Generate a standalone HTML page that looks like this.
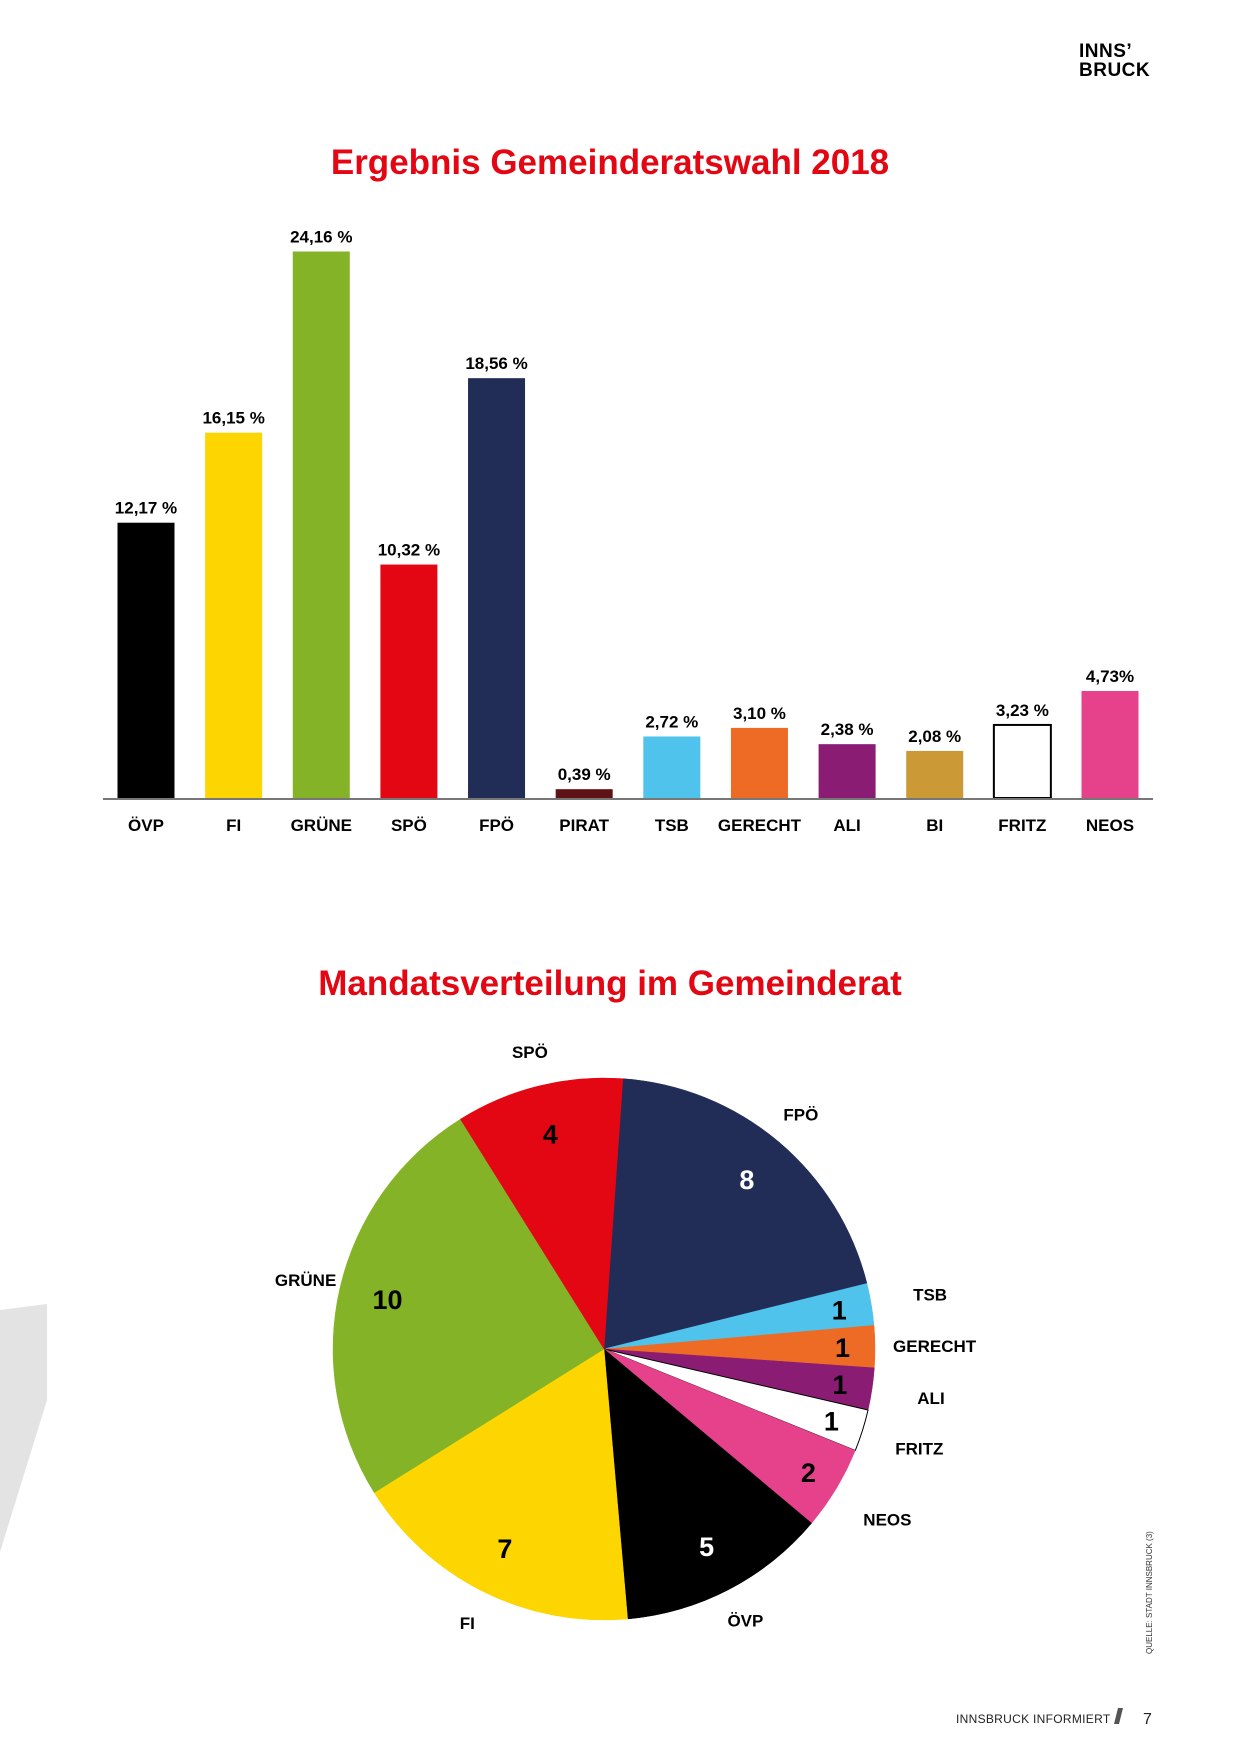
<!DOCTYPE html>
<html><head><meta charset="utf-8"><style>
body{margin:0;background:#fff;}
svg{display:block;font-family:"Liberation Sans",sans-serif;}
</style></head><body>
<svg width="1240" height="1754" viewBox="0 0 1240 1754">
<polygon points="0,1310 47,1304 47,1400 0,1552" fill="#e3e3e3"/>
<g font-weight="bold" font-size="19" fill="#000">
<text x="1079" y="57" letter-spacing="0.5">INNS’</text>
<text x="1079" y="76" letter-spacing="0.5">BRUCK</text>
</g>
<text x="610" y="174" text-anchor="middle" font-size="35" font-weight="bold" fill="#e30613">Ergebnis Gemeinderatswahl 2018</text>
<g id="bars"></g>
<text x="610" y="995" text-anchor="middle" font-size="35" font-weight="bold" fill="#e30613">Mandatsverteilung im Gemeinderat</text>
<g id="pie"></g>
<text transform="translate(1152,1654) rotate(-90)" font-size="8" fill="#333">QUELLE: STADT INNSBRUCK (3)</text>
<text x="956" y="1723" font-size="12" fill="#222" letter-spacing="0.3">INNSBRUCK INFORMIERT</text>
<polygon points="1114,1724 1118,1708 1123,1708 1119,1724" fill="#555"/>
<text x="1143" y="1724" font-size="16" fill="#222">7</text>
</svg>
<script>
const NS="http://www.w3.org/2000/svg";
const parties=["ÖVP","FI","GRÜNE","SPÖ","FPÖ","PIRAT","TSB","GERECHT","ALI","BI","FRITZ","NEOS"];
const percents=[12.17,16.15,24.16,10.32,18.56,0.39,2.72,3.10,2.38,2.08,3.23,4.73];
const percentLabels=["12,17 %","16,15 %","24,16 %","10,32 %","18,56 %","0,39 %","2,72 %","3,10 %","2,38 %","2,08 %","3,23 %","4,73%"];
const barColors=["#000000","#fdd500","#84b327","#e30613","#212c57","#5e1216","#4fc3ec","#ed6b24","#8b1c74","#cb9935","#ffffff","#e6418b"];
const pieParties=["FPÖ","TSB","GERECHT","ALI","FRITZ","NEOS","ÖVP","FI","GRÜNE","SPÖ"];
const seats=[8,1,1,1,1,2,5,7,10,4];
const pieColors=["#212c57","#4fc3ec","#ed6b24","#8b1c74","#ffffff","#e6418b","#000000","#fdd500","#84b327","#e30613"];
const numColors=["#fff","#000","#000","#000","#000","#000","#fff","#000","#000","#000"];

function mk(tag,attrs,parent){const e=document.createElementNS(NS,tag);for(const k in attrs)e.setAttribute(k,attrs[k]);parent.appendChild(e);return e;}
const bars=document.getElementById('bars');
const baseY=798, pxPerPct=22.62, x0=146, step=(1110-146)/11, bw=57;
const xS=i=>x0+i*step, yS=v=>baseY-v*pxPerPct;
parties.forEach((p,i)=>{
  const cx=xS(i), top=yS(percents[i]);
  const r=mk('rect',{x:cx-bw/2,y:top,width:bw,height:baseY-top,fill:barColors[i],stroke:p==="FRITZ"?"#000":"none","stroke-width":2},bars);
  
  
  const t=mk('text',{x:cx,y:top-9,"text-anchor":"middle","font-size":17,"font-weight":"bold"},bars);
  t.textContent=percentLabels[i];
  
  
  const c=mk('text',{x:cx,y:831,"text-anchor":"middle","font-size":17,"font-weight":"bold"},bars);
  c.textContent=p;
  
  
});
const ax=mk('line',{x1:103,x2:1153,y1:baseY+1,y2:baseY+1,stroke:"#777","stroke-width":2},bars);


const pie=document.getElementById('pie');
const cx=604,cy=1349,R=271,startDeg=4;
const total=seats.reduce((a,b)=>a+b,0);
const pt=(deg,r)=>{const a=deg*Math.PI/180;return [cx+r*Math.sin(a),cy-r*Math.cos(a)];};
let acc=startDeg;
seats.forEach((s,i)=>{
  const a0=acc,a1=acc+s/total*360;acc=a1;
  const p0=pt(a0,R),p1=pt(a1,R);
  const large=(a1-a0)>180?1:0;
  const path=mk('path',{d:`M${cx},${cy} L${p0[0]},${p0[1]} A${R},${R} 0 ${large} 1 ${p1[0]},${p1[1]} Z`,fill:pieColors[i],stroke:pieColors[i]==="#ffffff"?"#000":pieColors[i],"stroke-width":pieColors[i]==="#ffffff"?1:0.5},pie);
  
  
  const mid=(a0+a1)/2;
  const np=pt(mid,s<=2?R*0.88:R*0.82);
  const n=mk('text',{x:np[0],y:np[1]+10,"text-anchor":"middle","font-size":27,"font-weight":"bold",fill:numColors[i]},pie);
  n.textContent=seats[i];
  
  
  const lp=pt(mid,s<=2?R*1.22:R*1.13);
  const l=mk('text',{x:lp[0],y:lp[1]+6,"text-anchor":"middle","font-size":17,"font-weight":"bold"},pie);
  l.textContent=pieParties[i];
  
  
});
</script>
</body></html>
